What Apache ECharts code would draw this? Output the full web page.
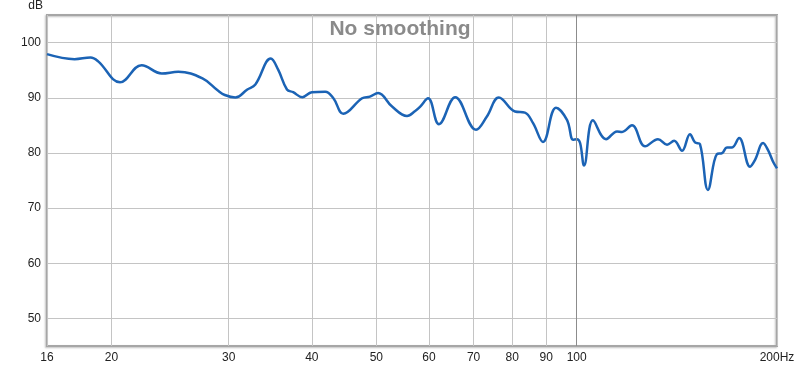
<!DOCTYPE html>
<html>
<head>
<meta charset="utf-8">
<script src="https://cdn.jsdelivr.net/npm/echarts@6/dist/echarts.min.js"></script>
<style>
  html, body { margin: 0; padding: 0; background: #fff; }
  #chart { width: 800px; height: 366px; }
</style>
</head>
<body>
<div id="chart"></div>
<script>
// frequency (Hz) and level (dB)
const freqs = [
  16.0, 17.6, 18.6, 19.1, 20.6, 22.2, 23.8, 25.2, 27.4, 28.9,
  29.6, 30.7, 32.0, 32.9, 34.7, 35.6, 36.7, 37.5, 38.7, 40.0,
  41.9, 43.1, 44.6, 47.6, 48.9, 50.3, 52.8, 55.6, 57.2, 58.2,
  59.8, 62.1, 65.7, 70.6, 73.3, 76.4, 80.8, 83.6, 86.0, 89.0,
  93.1, 96.7, 98.8, 100.1, 101.2, 102.6, 105.8, 110.7, 115.0, 117.0,
  121.1, 126.7, 132.5, 136.7, 140.1, 144.0, 148.0, 150.6, 153.2, 157.5,
  162.5, 165.4, 168.2, 171.2, 175.4, 182.2, 185.3, 190.6, 193.9, 197.3,
  200.0
]
const levels = [
  97.9, 97.0, 97.3, 96.6, 92.8, 95.9, 94.4, 94.7, 93.5, 91.3,
  90.5, 90.05, 91.5, 92.4, 97.1, 95.1, 91.5, 91.0, 90.1, 91.0,
  91.1, 89.9, 87.1, 89.9, 90.2, 90.85, 88.4, 86.7, 87.6, 88.4,
  89.9, 85.2, 90.1, 84.2, 86.6, 90.05, 87.5, 87.3, 85.4, 82.0,
  88.2, 86.0, 82.4, 82.5, 81.8, 77.7, 85.9, 82.5, 83.9, 83.8,
  85.0, 81.2, 82.5, 81.5, 82.2, 80.4, 83.4, 81.9, 81.6, 73.3,
  79.8, 79.95, 81.0, 81.0, 82.7, 77.5, 78.7, 81.8, 80.5, 78.4,
  77.2
]

const xTicks = [16, 20, 30, 40, 50, 60, 70, 80, 90, 100, 200]
const yTicks = [50, 60, 70, 80, 90, 100]

const chart = echarts.init(document.getElementById('chart'))

const option = {
  animation: false,
  title: {
    text: 'No smoothing',
    left: 'center',
    top: 14,
    textStyle: {
      fontFamily: 'Liberation Sans, Arial, sans-serif',
      fontSize: 21,
      fontWeight: 'bold',
      color: '#8a8a8a'
    }
  },
  grid: {
    left: 47,
    right: 23,
    top: 14,
    bottom: 20,
    show: true,
    borderColor: '#a6a6a6',
    borderWidth: 2,
    shadowColor: 'rgba(0,0,0,0.25)',
    shadowBlur: 2,
    shadowOffsetX: -1,
    shadowOffsetY: 1
  },
  xAxis: {
    type: 'log',
    logBase: 10,
    min: 16,
    max: 200,
    axisLine: { show: false },
    axisTick: { show: false, customValues: xTicks },
    axisLabel: {
      customValues: xTicks,
      margin: 6,
      fontFamily: 'Liberation Sans, Arial, sans-serif',
      fontSize: 12,
      color: '#222',
      formatter: v => (Math.round(v) === 200 ? '200Hz' : String(Math.round(v)))
    },
    splitLine: { show: true, lineStyle: { color: '#c4c4c4', width: 1 } }
  },
  yAxis: {
    type: 'value',
    min: 45,
    max: 105,
    name: 'dB',
    nameLocation: 'end',
    nameGap: 3,
    nameTextStyle: {
      align: 'right',
      padding: [0, 4, 0, 0],
      fontFamily: 'Liberation Sans, Arial, sans-serif',
      fontSize: 12,
      color: '#222'
    },
    axisLine: { show: false },
    axisTick: { show: false, customValues: yTicks },
    axisLabel: {
      customValues: yTicks,
      margin: 6,
      fontFamily: 'Liberation Sans, Arial, sans-serif',
      fontSize: 12,
      color: '#222'
    },
    splitLine: { show: true, lineStyle: { color: '#c4c4c4', width: 1 } }
  },
  series: [
    {
      type: 'line',
      data: freqs.map((f, i) => [f, levels[i]]),
      smooth: 0.4,
      showSymbol: false,
      lineStyle: { color: '#1b63b5', width: 2.5 },
      markLine: {
        silent: true,
        symbol: 'none',
        label: { show: false },
        lineStyle: { color: '#8c8c8c', type: 'solid', width: 1 },
        data: [{ xAxis: 100 }]
      }
    }
  ]
}

chart.setOption(option)
</script>
</body>
</html>
